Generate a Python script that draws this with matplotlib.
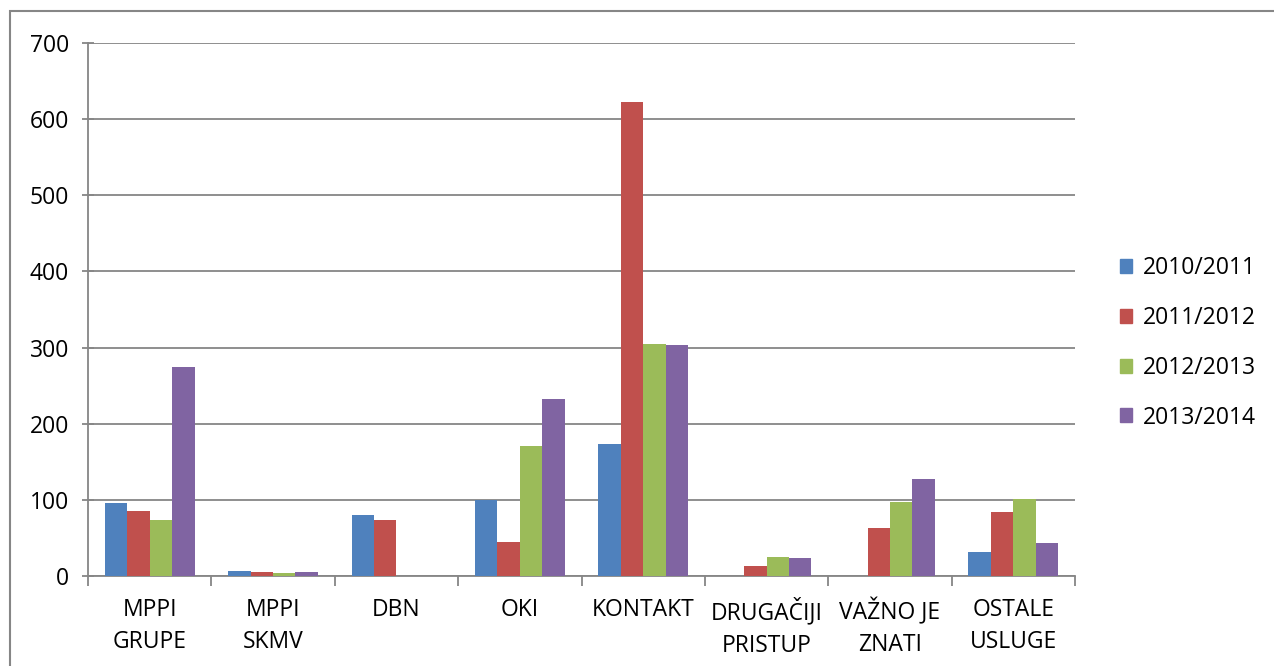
import numpy as np
import matplotlib.pyplot as plt
from matplotlib.patches import Rectangle, Patch

# categories and series
categories = ['MPPI\nGRUPE', 'MPPI\nSKMV', 'DBN', 'OKI', 'KONTAKT',
              'DRUGAČIJI\nPRISTUP', 'VAŽNO JE\nZNATI', 'OSTALE\nUSLUGE']
years = ['2010/2011', '2011/2012', '2012/2013', '2013/2014']
y2010 = [96, 7, 80, 100, 173, 0, 0, 32]
y2011 = [86, 5, 73, 45, 623, 13, 63, 84]
y2012 = [73, 4, 0, 171, 305, 25, 97, 101]
y2013 = [274, 5, 0, 233, 303, 24, 127, 43]
colors = ['#4F81BD', '#C0504D', '#9BBB59', '#8064A2']

plt.rcParams['font.family'] = ['Open Sans', 'DejaVu Sans']
grey = '#868686'
fs = 16.5

fig = plt.figure(figsize=(12.74, 6.66), dpi=100)
ax = fig.add_axes([88 / 1274, 1 - 576 / 666, 987 / 1274, 533 / 666])

series = [y2010, y2011, y2012, y2013]
x = np.arange(len(categories))
w = 1 / 5.5  # excel gap width 150%
for i, (vals, c) in enumerate(zip(series, colors)):
    ax.bar(x + (i - 1.5) * w, vals, w, color=c, zorder=3)

ax.set_xlim(-0.5, len(categories) - 0.5)
ax.set_ylim(0, 700)
ax.set_yticks(range(0, 701, 100))
ax.yaxis.grid(True, color=grey, lw=1.3, zorder=0)
ax.set_xticks(x)
ax.set_xticklabels(categories, fontsize=fs, linespacing=1.45)
ax.set_xticks(np.arange(-0.5, len(categories)), minor=True)
ax.tick_params(axis='x', which='major', length=0, pad=16)
ax.tick_params(axis='x', which='minor', length=7, color=grey, width=1.3)
ax.tick_params(axis='y', direction='inout', length=9, color=grey, width=1.3,
               labelsize=fs, pad=9)
for s in ['top', 'right']:
    ax.spines[s].set_visible(False)
for s in ['left', 'bottom']:
    ax.spines[s].set_color(grey)
    ax.spines[s].set_linewidth(1.3)

handles = [Patch(color=c, label=l) for c, l in zip(colors, years)]
fig.legend(handles=handles, loc='center left',
           bbox_to_anchor=(1099 / 1274, 1 - 343 / 666), frameon=False,
           fontsize=fs, handlelength=0.55, handleheight=0.55,
           handletextpad=0.45, labelspacing=1.12)

# chart area border
fig.patches.append(Rectangle((10 / 1274, -0.2), 1.2, 0.2 + 1 - 11 / 666,
                             transform=fig.transFigure, fill=False,
                             edgecolor=grey, lw=1.5))

fig.savefig('out.png', dpi=100)
